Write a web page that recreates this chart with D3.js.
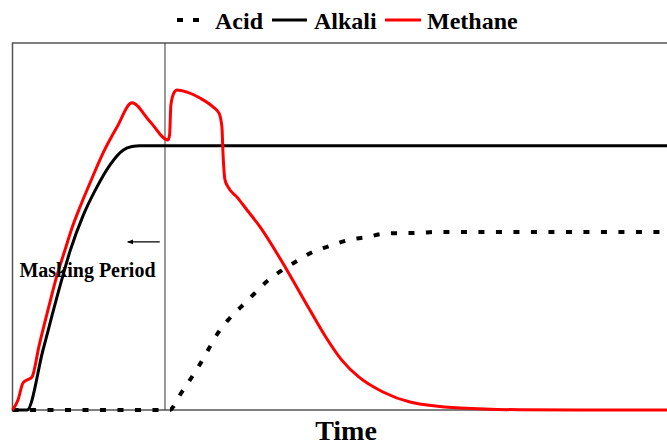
<!DOCTYPE html>
<html>
<head>
<meta charset="utf-8">
<script src="https://cdn.jsdelivr.net/npm/d3@7"></script>
<style>
  body { margin: 0; background: #fff; }
  text { font-family: "Liberation Serif", "Times New Roman", serif; font-weight: bold; fill: #000; }
</style>
</head>
<body>
<svg id="chart" width="667" height="446"></svg>
<script>
// values (time and level in arbitrary units, 0-100)
var methaneT = [0, 0.84, 1.6, 2.22, 2.98, 4.05, 5.5, 6.72, 8.02, 9.09, 10.31, 11.84, 13.83, 15.97, 18.26,
  21.0, 23.76, 24.0, 24.2, 24.67, 25.13, 26.66, 28.65, 30.63, 31.55, 32.0, 32.16, 32.47, 32.93, 34.3, 35.83,
  37.82, 41.94, 45.26, 47.86, 50.31, 52.9, 56.6, 60.73, 68.4, 77.5, 100];
var methaneV = [0, 2.72, 7.36, 8.17, 8.99, 17.4, 27.8, 36.2, 43.6, 49.6, 55.3, 61.85, 70.0, 77.1, 83.7,
  78.6, 73.6, 74.9, 83.1, 86.4, 87.2, 86.6, 85.0, 82.6, 80.9, 77.1, 70.0, 62.7, 60.8, 58.0, 54.5,
  49.9, 38.1, 27.8, 19.9, 13.6, 9.0, 4.9, 2.18, 0.54, 0.08, 0];

var alkaliT = [0, 2.22, 4.66, 7.26, 8.79, 10.77, 12.91, 14.9, 16.88, 18.26, 19.48, 100];
var alkaliV = [0, 0, 16.35, 33.8, 43.3, 52.9, 60.8, 66.8, 70.8, 71.8, 72.0, 72.0];

var acidT = [0, 24.06, 24.52, 25.59, 27.12, 28.65, 29.87, 31.4, 32.93, 34.92, 36.9, 38.58, 41.18,
  43.47, 45.92, 48.5, 51.26, 54.16, 56.61, 59.21, 61.96, 64.56, 100];
var acidV = [0, 0, 0.8, 4.1, 8.2, 12.5, 16.3, 21.0, 24.5, 28.1, 31.6, 34.6, 38.1,
  40.6, 43.1, 44.7, 46.3, 47.1, 48.0, 48.2, 48.2, 48.5, 48.5];

var seriesNames = ["Acid", "Alkali", "Methane"];
var maskingTime = 23.3;

var svg = d3.select("#chart");

var x = d3.scaleLinear().domain([0, 100]).range([12.5, 667]);
var y = d3.scaleLinear().domain([0, 100]).range([410, 43]);

function zip(ts, vs) { return ts.map(function(t, i) { return [t, vs[i]]; }); }

var series = [
  { name: "Acid",    data: zip(acidT, acidV),       color: "#000", width: 4, dash: "6,11.5" },
  { name: "Alkali",  data: zip(alkaliT, alkaliV),   color: "#000", width: 3, dash: null },
  { name: "Methane", data: zip(methaneT, methaneV), color: "#ff0000", width: 3, dash: null }
];

// frame (right side runs off the page, as in the source)
svg.append("rect")
  .attr("x", x(0)).attr("y", y(100))
  .attr("width", 700).attr("height", y(0) - y(100))
  .attr("fill", "none").attr("stroke", "#555").attr("stroke-width", 1.5);

// masking period divider
svg.append("line")
  .attr("x1", x(maskingTime)).attr("x2", x(maskingTime))
  .attr("y1", y(100)).attr("y2", y(0))
  .attr("stroke", "#333").attr("stroke-width", 1);

var line = d3.line()
  .x(function(d) { return x(d[0]); })
  .y(function(d) { return y(d[1]); })
  .curve(d3.curveMonotoneX);

svg.append("g").selectAll("path")
  .data(series)
  .enter().append("path")
    .attr("d", function(d) { return line(d.data); })
    .attr("fill", "none")
    .attr("stroke", function(d) { return d.color; })
    .attr("stroke-width", function(d) { return d.width; })
    .attr("stroke-dasharray", function(d) { return d.dash; });

// arrow + label
svg.append("defs").append("marker")
  .attr("id", "arr").attr("viewBox", "0 0 10 10")
  .attr("refX", 9).attr("refY", 5)
  .attr("markerWidth", 6).attr("markerHeight", 6)
  .attr("markerUnits", "userSpaceOnUse")
  .attr("orient", "auto")
  .append("path").attr("d", "M0,1 L10,5 L0,9 Z").attr("fill", "#000");

svg.append("line")
  .attr("x1", x(22.5)).attr("x2", x(17.6))
  .attr("y1", y(45.8)).attr("y2", y(45.8))
  .attr("stroke", "#000").attr("stroke-width", 1.3)
  .attr("marker-end", "url(#arr)");

svg.append("text")
  .attr("x", 87.5).attr("y", 277)
  .attr("text-anchor", "middle")
  .style("font-size", "20px")
  .text("Masking Period");

// x axis title
svg.append("text")
  .attr("x", 346).attr("y", 440)
  .attr("text-anchor", "middle")
  .style("font-size", "28px")
  .text("Time");

// legend
var legX = [177, 272, 385],
    legW = [22, 35, 36],
    legGap = [16, 7, 6];

var leg = svg.append("g").selectAll("g")
  .data(series)
  .enter().append("g");

leg.append("line")
  .attr("x1", function(d, i) { return legX[i]; })
  .attr("x2", function(d, i) { return legX[i] + legW[i]; })
  .attr("y1", 20).attr("y2", 20)
  .attr("stroke", function(d) { return d.color; })
  .attr("stroke-width", function(d) { return d.width; })
  .attr("stroke-dasharray", function(d) { return d.dash ? "6,10" : null; });

leg.append("text")
  .attr("x", function(d, i) { return legX[i] + legW[i] + legGap[i]; })
  .attr("y", 29)
  .style("font-size", "24px")
  .text(function(d, i) { return seriesNames[i]; });
</script>
</body>
</html>
